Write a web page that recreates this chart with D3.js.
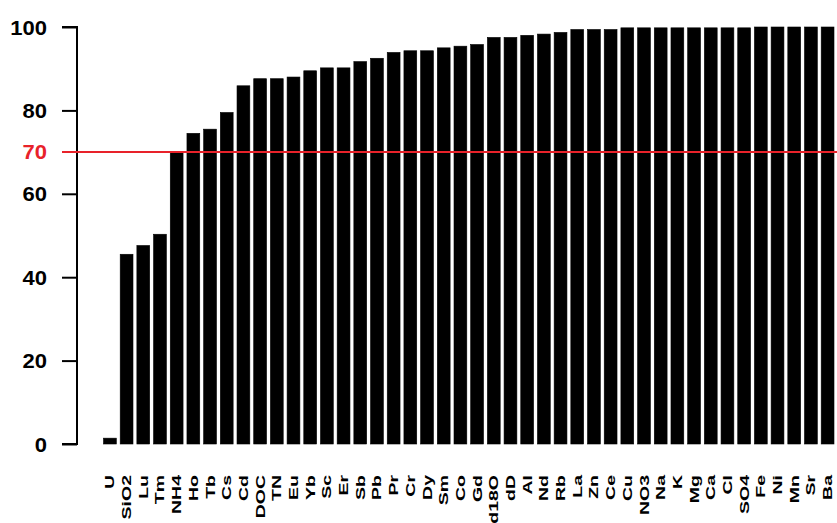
<!DOCTYPE html>
<html>
<head>
<meta charset="utf-8">
<script src="https://cdn.jsdelivr.net/npm/d3@7"></script>
<style>
  html, body { margin: 0; padding: 0; background: #fff; }
  svg { display: block; }
  text { font-family: "Liberation Sans", Arial, sans-serif; font-weight: bold; }
</style>
</head>
<body>
<svg id="chart" width="837" height="523"></svg>
<script>
const categories = ["U","SiO2","Lu","Tm","NH4","Ho","Tb","Cs","Cd","DOC","TN","Eu","Yb","Sc","Er","Sb","Pb","Pr","Cr","Dy","Sm","Co","Gd","d18O","dD","Al","Nd","Rb","La","Zn","Ce","Cu","NO3","Na","K","Mg","Ca","Cl","SO4","Fe","Ni","Mn","Sr","Ba"];
const values = [1.4,45.5,47.6,50.3,70.1,74.5,75.5,79.5,85.9,87.6,87.6,88.0,89.5,90.2,90.2,91.7,92.5,93.9,94.3,94.3,95.0,95.4,95.8,97.5,97.5,98.0,98.3,98.7,99.4,99.4,99.4,99.8,99.8,99.8,99.8,99.8,99.8,99.8,99.8,100,100,100,100,100];
const yTicks = [0,20,40,60,80,100];
const threshold = 70;

const svg = d3.select("#chart");
const y = d3.scaleLinear().domain([0,100]).range([444,27]);
const x = d3.scaleBand().domain(categories).range([103.5,834]).paddingInner(0.233).paddingOuter(0);

// bars
svg.append("g").selectAll("rect").data(categories).join("rect")
  .attr("x", d => x(d))
  .attr("width", x.bandwidth())
  .attr("y", (d,i) => y(values[i]))
  .attr("height", (d,i) => y(0) - y(values[i]))
  .attr("fill", "#000")
  .attr("stroke", "#000")
  .attr("stroke-width", 0.6);

// y axis
const yAxis = d3.axisLeft(y).tickValues(yTicks).tickSize(15).tickPadding(0).tickFormat(d3.format("d"));
const ga = svg.append("g").attr("transform", "translate(77,0)").call(yAxis);
ga.select(".domain").attr("d", "M-15,27H0V444H-15").attr("stroke", "#000").attr("stroke-width", 2).attr("fill","none");
ga.selectAll(".tick line").attr("stroke", "#000").attr("stroke-width", 2);
ga.selectAll(".tick text")
  .attr("x", null).attr("dy", null)
  .attr("font-size", 20).attr("font-family", "Liberation Sans, Arial, sans-serif").attr("font-weight", "bold").attr("fill", "#000")
  .attr("text-anchor", "end")
  .attr("transform", "translate(-30,7) scale(1.1,1)");

// threshold line
svg.append("line")
  .attr("x1", 62).attr("x2", 837)
  .attr("y1", y(threshold)).attr("y2", y(threshold))
  .attr("stroke", "#e8222a").attr("stroke-width", 2);
svg.append("text")
  .attr("transform", `translate(47,${y(threshold) + 7}) scale(1.1,1)`)
  .attr("text-anchor", "end").attr("font-size", 20).attr("fill", "#e8222a")
  .text(threshold);

// x labels
svg.append("g").selectAll("text").data(categories).join("text")
  .attr("transform", d => `translate(${x(d) + x.bandwidth()/2 + 4.5},475) rotate(-90) scale(1.5,1)`)
  .attr("text-anchor", "end")
  .attr("font-size", 13)
  .attr("fill", "#000")
  .text(d => d);
</script>
</body>
</html>
